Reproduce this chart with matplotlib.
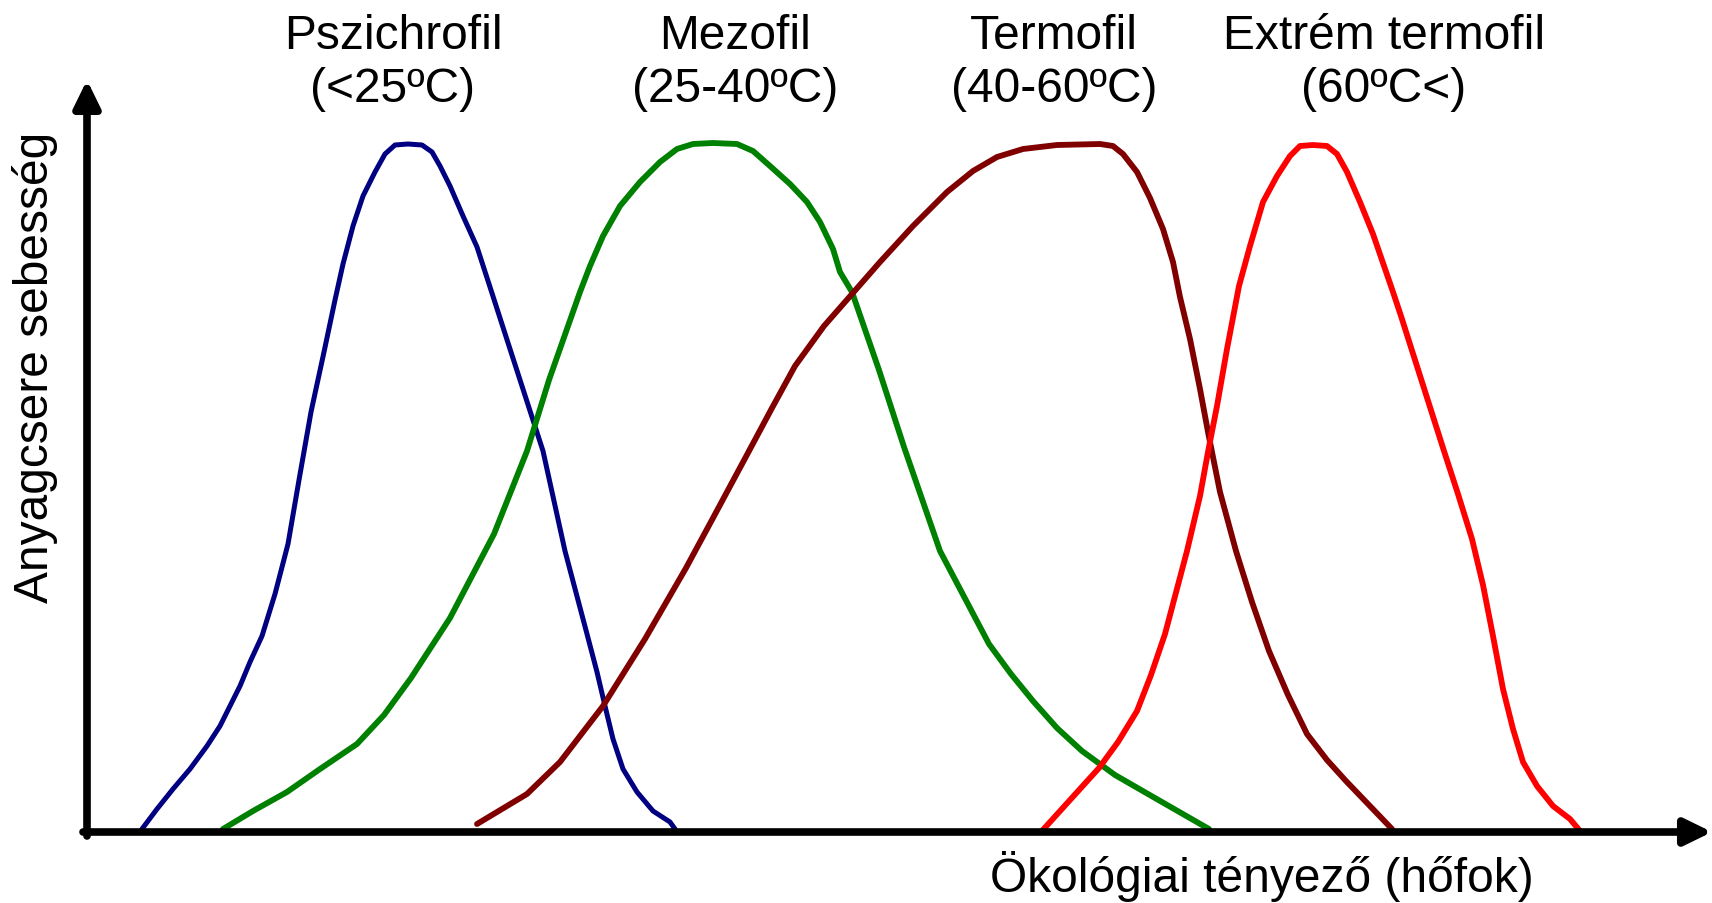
import matplotlib.pyplot as plt

plt.rcParams["font.family"] = ["Liberation Sans", "DejaVu Sans"]

# Curves.
# x: position along the temperature axis, y: metabolic rate (same scale, 0 = axis)
psychro_x = [55, 70, 86, 103, 120, 133, 143, 153, 163, 175, 188, 201, 212, 224,
             237, 248, 256, 266, 276, 288, 298, 308, 321, 335, 345, 353, 363,
             376, 390, 403, 423, 456, 478, 500, 510, 518, 526, 536, 550, 566,
             583, 588]
psychro_y = [3, 23, 43, 63, 86, 106, 126, 146, 170, 196, 238, 288, 352, 420,
             480, 532, 568, 606, 636, 660, 678, 687, 688, 687, 680, 666, 646,
             616, 585, 545, 483, 381, 281, 198, 160, 126, 93, 63, 40, 21,
             10, 3]

meso_x = [136, 166, 200, 233, 270, 297, 324, 363, 407, 440, 462, 493, 503, 516,
          533, 553, 573, 590, 606, 626, 650, 666, 683, 703, 720, 733, 746, 753,
          765, 792, 817, 853, 902, 924, 946, 970, 995, 1028, 1061, 1122]
meso_y = [3, 21, 40, 63, 88, 117, 154, 214, 298, 381, 452, 540, 566, 596,
          626, 650, 670, 683, 688, 689, 688, 681, 666, 648, 630, 610, 583, 560,
          540, 462, 385, 281, 188, 158, 131, 104, 81, 57, 38, 3]

thermo_x = [390, 440, 473, 516, 558, 599, 626, 662, 685, 708, 737, 765, 793, 826,
            860, 886, 910, 936, 970, 1013, 1026, 1036, 1050, 1063, 1076, 1086,
            1093, 1103, 1113, 1121, 1133, 1149, 1165, 1182, 1201, 1220, 1240,
            1259, 1282, 1305]
thermo_y = [8, 38, 70, 126, 193, 264, 314, 381, 424, 466, 506, 538, 570, 606,
            640, 661, 675, 683, 687, 688, 686, 678, 660, 634, 603, 570,
            535, 493, 443, 400, 340, 281, 230, 181, 137, 98, 72,
            51, 27, 3]

extreme_x = [954, 1012, 1031, 1050, 1064, 1078, 1100, 1113, 1121, 1130, 1140, 1152,
             1163, 1176, 1190, 1203, 1213, 1226, 1240, 1250, 1260, 1273, 1286, 1306,
             1314, 1357, 1371, 1385, 1396, 1406, 1416, 1426, 1436, 1450, 1466,
             1483, 1493]
extreme_y = [0, 64, 90, 121, 157, 198, 281, 336, 380, 426, 483, 546,
             586, 630, 656, 676, 686, 687, 686, 678, 660, 630, 598, 540,
             516, 381, 338, 293, 247, 196, 143, 103, 70, 46, 26,
             13, 1]

group_names = ["Pszichrofil", "Mezofil", "Termofil", "Extrém termofil"]
group_ranges = ["(<25ºC)", "(25-40ºC)", "(40-60ºC)", "(60ºC<)"]
label_x = [306, 648, 967, 1297]
colors = ["#000080", "#008000", "#800000", "#ff0000"]
widths = [3.6, 4.2, 4.2, 4.2]

W, H = 1712, 904
fig = plt.figure(figsize=(W / 100, H / 100), dpi=100)
ax = fig.add_axes([87 / W, 71 / H, 1 - 87 / W, 833 / H])
ax.set_xlim(0, 1625)
ax.set_ylim(0, 833)
ax.set_axis_off()

curves = [(psychro_x, psychro_y), (meso_x, meso_y),
          (thermo_x, thermo_y), (extreme_x, extreme_y)]
for (xs, ys), c, lw in zip(curves, colors, widths):
    ax.plot(xs, ys, color=c, lw=lw, solid_joinstyle="round",
            solid_capstyle="round", clip_on=False, zorder=3)

# axes drawn as arrows
arrow = dict(arrowstyle="-|>,head_length=0.45,head_width=0.22", lw=5.5,
             color="black", mutation_scale=36, shrinkA=0, shrinkB=0)
ax.annotate("", xy=(0, 752), xytext=(0, -4), arrowprops=arrow, annotation_clip=False)
ax.annotate("", xy=(1625, 0), xytext=(-4, 0), arrowprops=arrow, annotation_clip=False)

for name, rng, x in zip(group_names, group_ranges, label_x):
    ax.text(x, 797, name, ha="center", va="center", fontsize=34.5, clip_on=False)
    ax.text(x, 744, rng, ha="center", va="center", fontsize=34.5, clip_on=False)

fig.text(35 / W, 1 - 367 / H, "Anyagcsere sebesség", rotation=90,
         ha="center", va="center", fontsize=34.5)
fig.text(1262 / W, 1 - 877 / H, "Ökológiai tényező (hőfok)",
         ha="center", va="center", fontsize=34.5)

fig.savefig("out.png", dpi=100)
